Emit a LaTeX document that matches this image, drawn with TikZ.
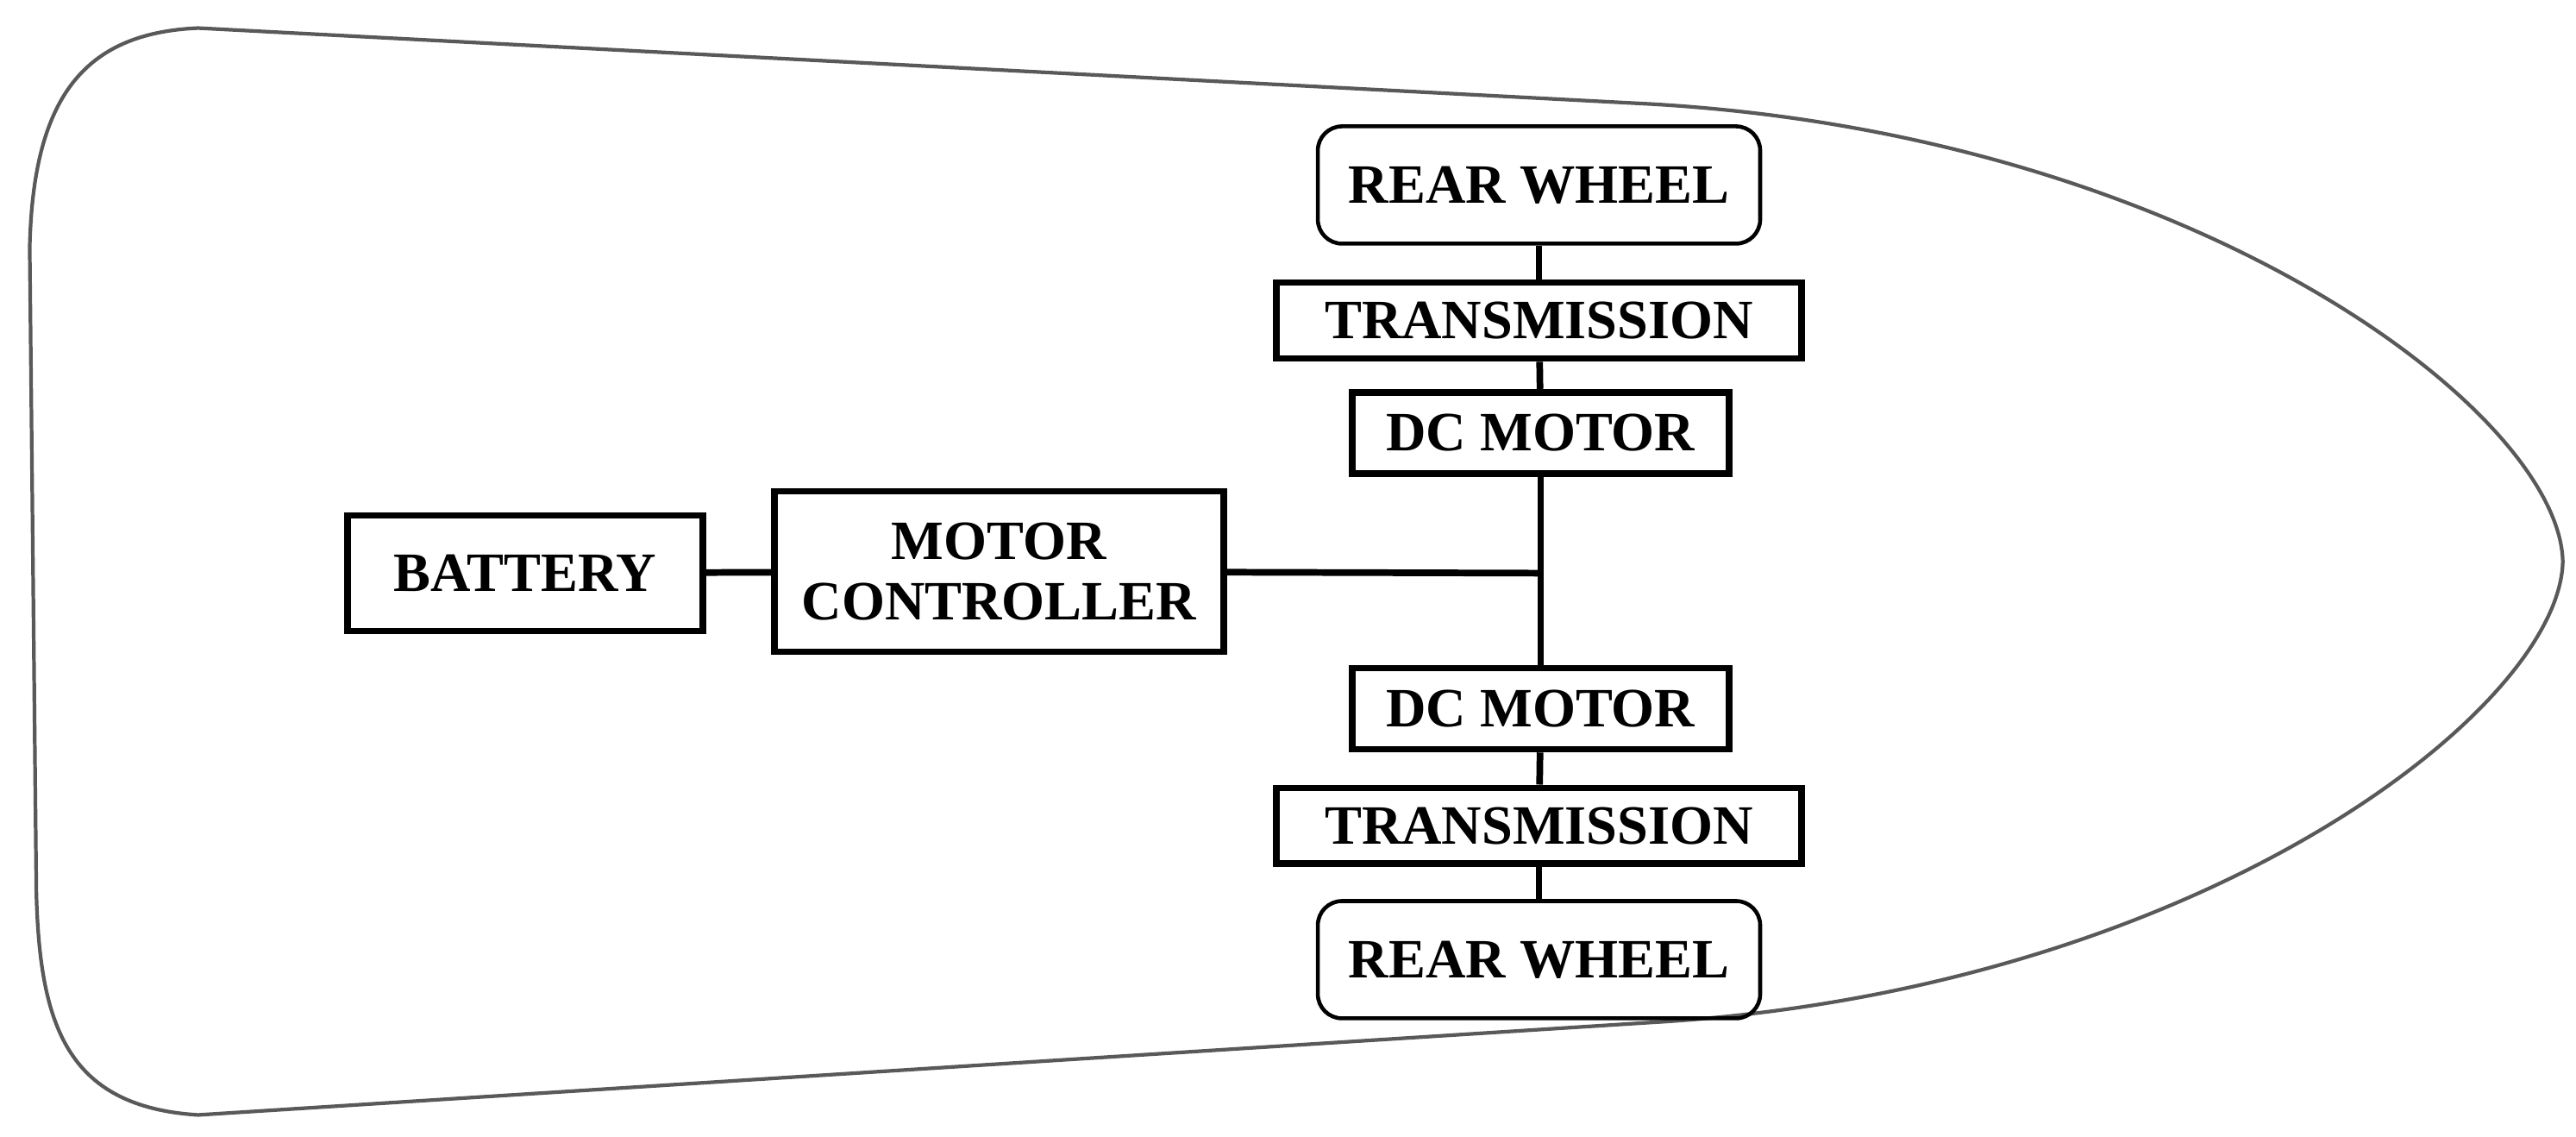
\documentclass[tikz,border=0pt]{standalone}
\usepackage{fontspec}
\setmainfont{Liberation Serif}
\usepackage{tikz}
\usetikzlibrary{positioning}

\begin{document}
\begin{tikzpicture}[
    x=0.01915cm, y=-0.01915cm,
    unit/.style={rectangle, draw, line width=2.2pt, font=\fontsize{18.3}{20}\selectfont\bfseries, align=center, inner sep=0pt},
    wheel/.style={unit, rounded corners=8pt, line width=1.3pt, minimum width=5.13cm, minimum height=1.36cm},
    trans/.style={unit, minimum width=6.09cm, minimum height=0.88cm},
    motor/.style={unit, minimum width=4.37cm, minimum height=0.94cm},
    link/.style={line width=2.2pt}
]
\useasboundingbox (0,0) rectangle (1560,688);

% Hull
\draw[gray!70!black, line width=1.2pt] (120,17) -- (1000,63)
    .. controls (1330,82) and (1550,250) .. (1552,340)
    .. controls (1550,430) and (1330,600) .. (1000,619)
    -- (120,675) .. controls (40,670) and (24,620) .. (22,540)
    -- (18,150) .. controls (20,60) and (50,20) .. (120,17);

% Units
\node[wheel] (wheelT) at (932,112) {REAR WHEEL};
\node[trans] (transT) at (932,194) {TRANSMISSION};
\node[motor] (motorT) at (933,262) {DC MOTOR};
\node[unit, minimum width=4.12cm, minimum height=1.34cm] (battery) at (318,347) {BATTERY};
\node[unit, minimum width=5.21cm, minimum height=1.86cm] (control) at (605,346) {MOTOR\\CONTROLLER};
\node[motor] (motorB) at (933,429) {DC MOTOR};
\node[trans] (transB) at (932,500) {TRANSMISSION};
\node[wheel] (wheelB) at (932,581) {REAR WHEEL};
\coordinate (hub) at (933,347);

% Links
\draw[link] (wheelT) -- (transT);
\draw[link] (transT) -- (motorT);
\draw[link] (motorT) -- (hub) -- (motorB);
\draw[link] (control) -- (hub);
\draw[link] (battery) -- (control);
\draw[link] (motorB) -- (transB);
\draw[link] (transB) -- (wheelB);

\end{tikzpicture}
\end{document}
